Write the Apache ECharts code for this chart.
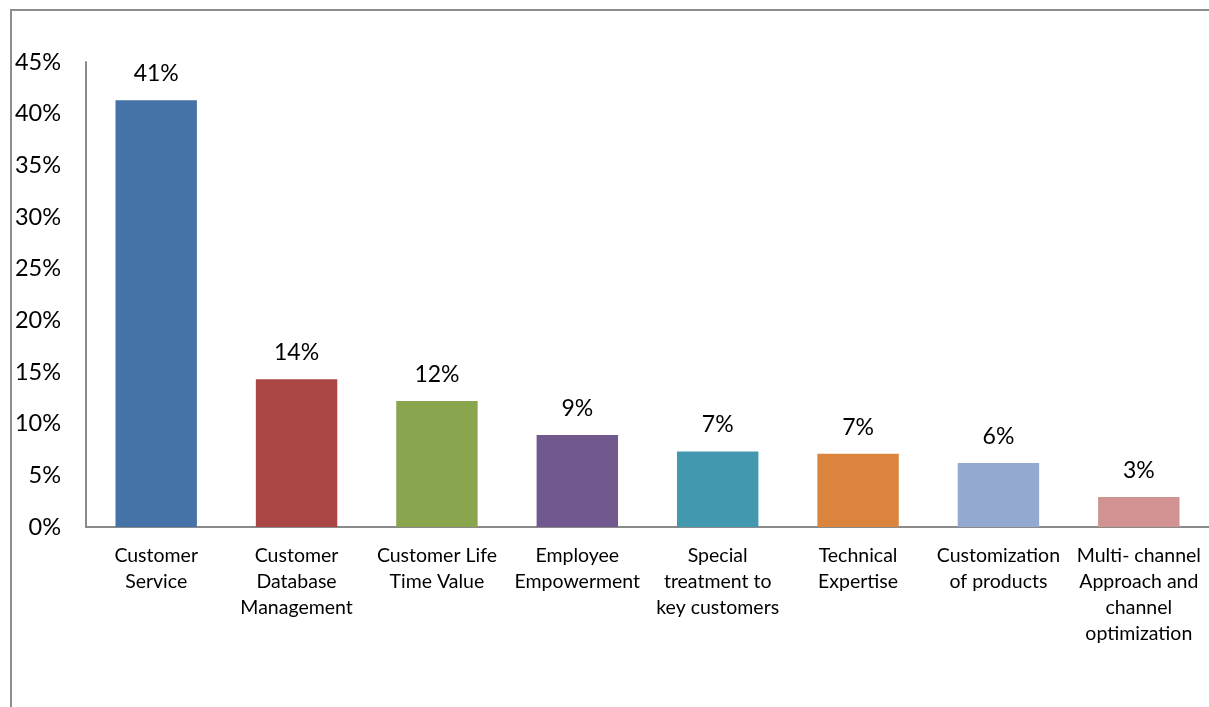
<!DOCTYPE html>
<html>
<head>
<meta charset="utf-8">
<title>Customer Relationship Factors</title>
<script src="https://cdn.jsdelivr.net/npm/echarts@6/dist/echarts.min.js"></script>
<style>
  html, body { margin: 0; padding: 0; background: #fff; }
  #chart { width: 1209px; height: 707px; }
</style>
</head>
<body>
<div id="chart"></div>
<script>
// Factor names (line breaks as shown under each bar)
const categories = [
  'Customer\nService',
  'Customer\nDatabase\nManagement',
  'Customer Life\nTime Value',
  'Employee\nEmpowerment',
  'Special\ntreatment to\nkey customers',
  'Technical\nExpertise',
  'Customization\nof products',
  'Multi- channel\nApproach and\nchannel\noptimization'
];

// Share of respondents, in percent
const shares = [41.3, 14.3, 12.2, 8.9, 7.3, 7.1, 6.2, 2.9];

// One colour per bar
const barColors = ['#4572A7', '#AA4643', '#89A54E', '#71588F', '#4198AF', '#DB843D', '#93A9CF', '#D19392'];

// Value axis ticks
const yMin = 0;
const yMax = 45;
const yStep = 5;

const FONT = 'Lato';
const chart = echarts.init(document.getElementById('chart'), null, { renderer: 'canvas' });

chart.setOption({
  animation: false,
  backgroundColor: '#ffffff',
  textStyle: { fontFamily: FONT, color: '#000' },
  graphic: [{
    type: 'rect',
    shape: { x: 11, y: 10, width: 1400, height: 900 },
    style: { fill: 'none', stroke: '#8c8c8c', lineWidth: 2 },
    silent: true,
    z: -1
  }],
  grid: { left: 86, right: -2, top: 62, bottom: 180, containLabel: false },
  xAxis: {
    type: 'category',
    data: categories,
    axisTick: { show: false },
    axisLine: { lineStyle: { color: '#8a8a8a', width: 2 } },
    axisLabel: {
      interval: 0,
      margin: 16,
      fontFamily: FONT,
      fontSize: 19.5,
      lineHeight: 26,
      color: '#000',
      align: 'center'
    }
  },
  yAxis: {
    type: 'value',
    min: yMin,
    max: yMax,
    interval: yStep,
    splitLine: { show: false },
    axisTick: { show: false },
    axisLine: { show: true, lineStyle: { color: '#8a8a8a', width: 2 } },
    axisLabel: {
      formatter: '{value}%',
      margin: 25,
      fontFamily: FONT,
      fontSize: 23.5,
      color: '#000'
    }
  },
  series: [{
    type: 'bar',
    barWidth: '58%',
    data: shares.map((v, i) => ({ value: v, itemStyle: { color: barColors[i] } })),
    label: {
      show: true,
      position: 'top',
      distance: 15,
      fontFamily: FONT,
      fontSize: 23,
      color: '#000',
      formatter: p => Math.round(p.value) + '%'
    }
  }]
});
</script>
</body>
</html>
